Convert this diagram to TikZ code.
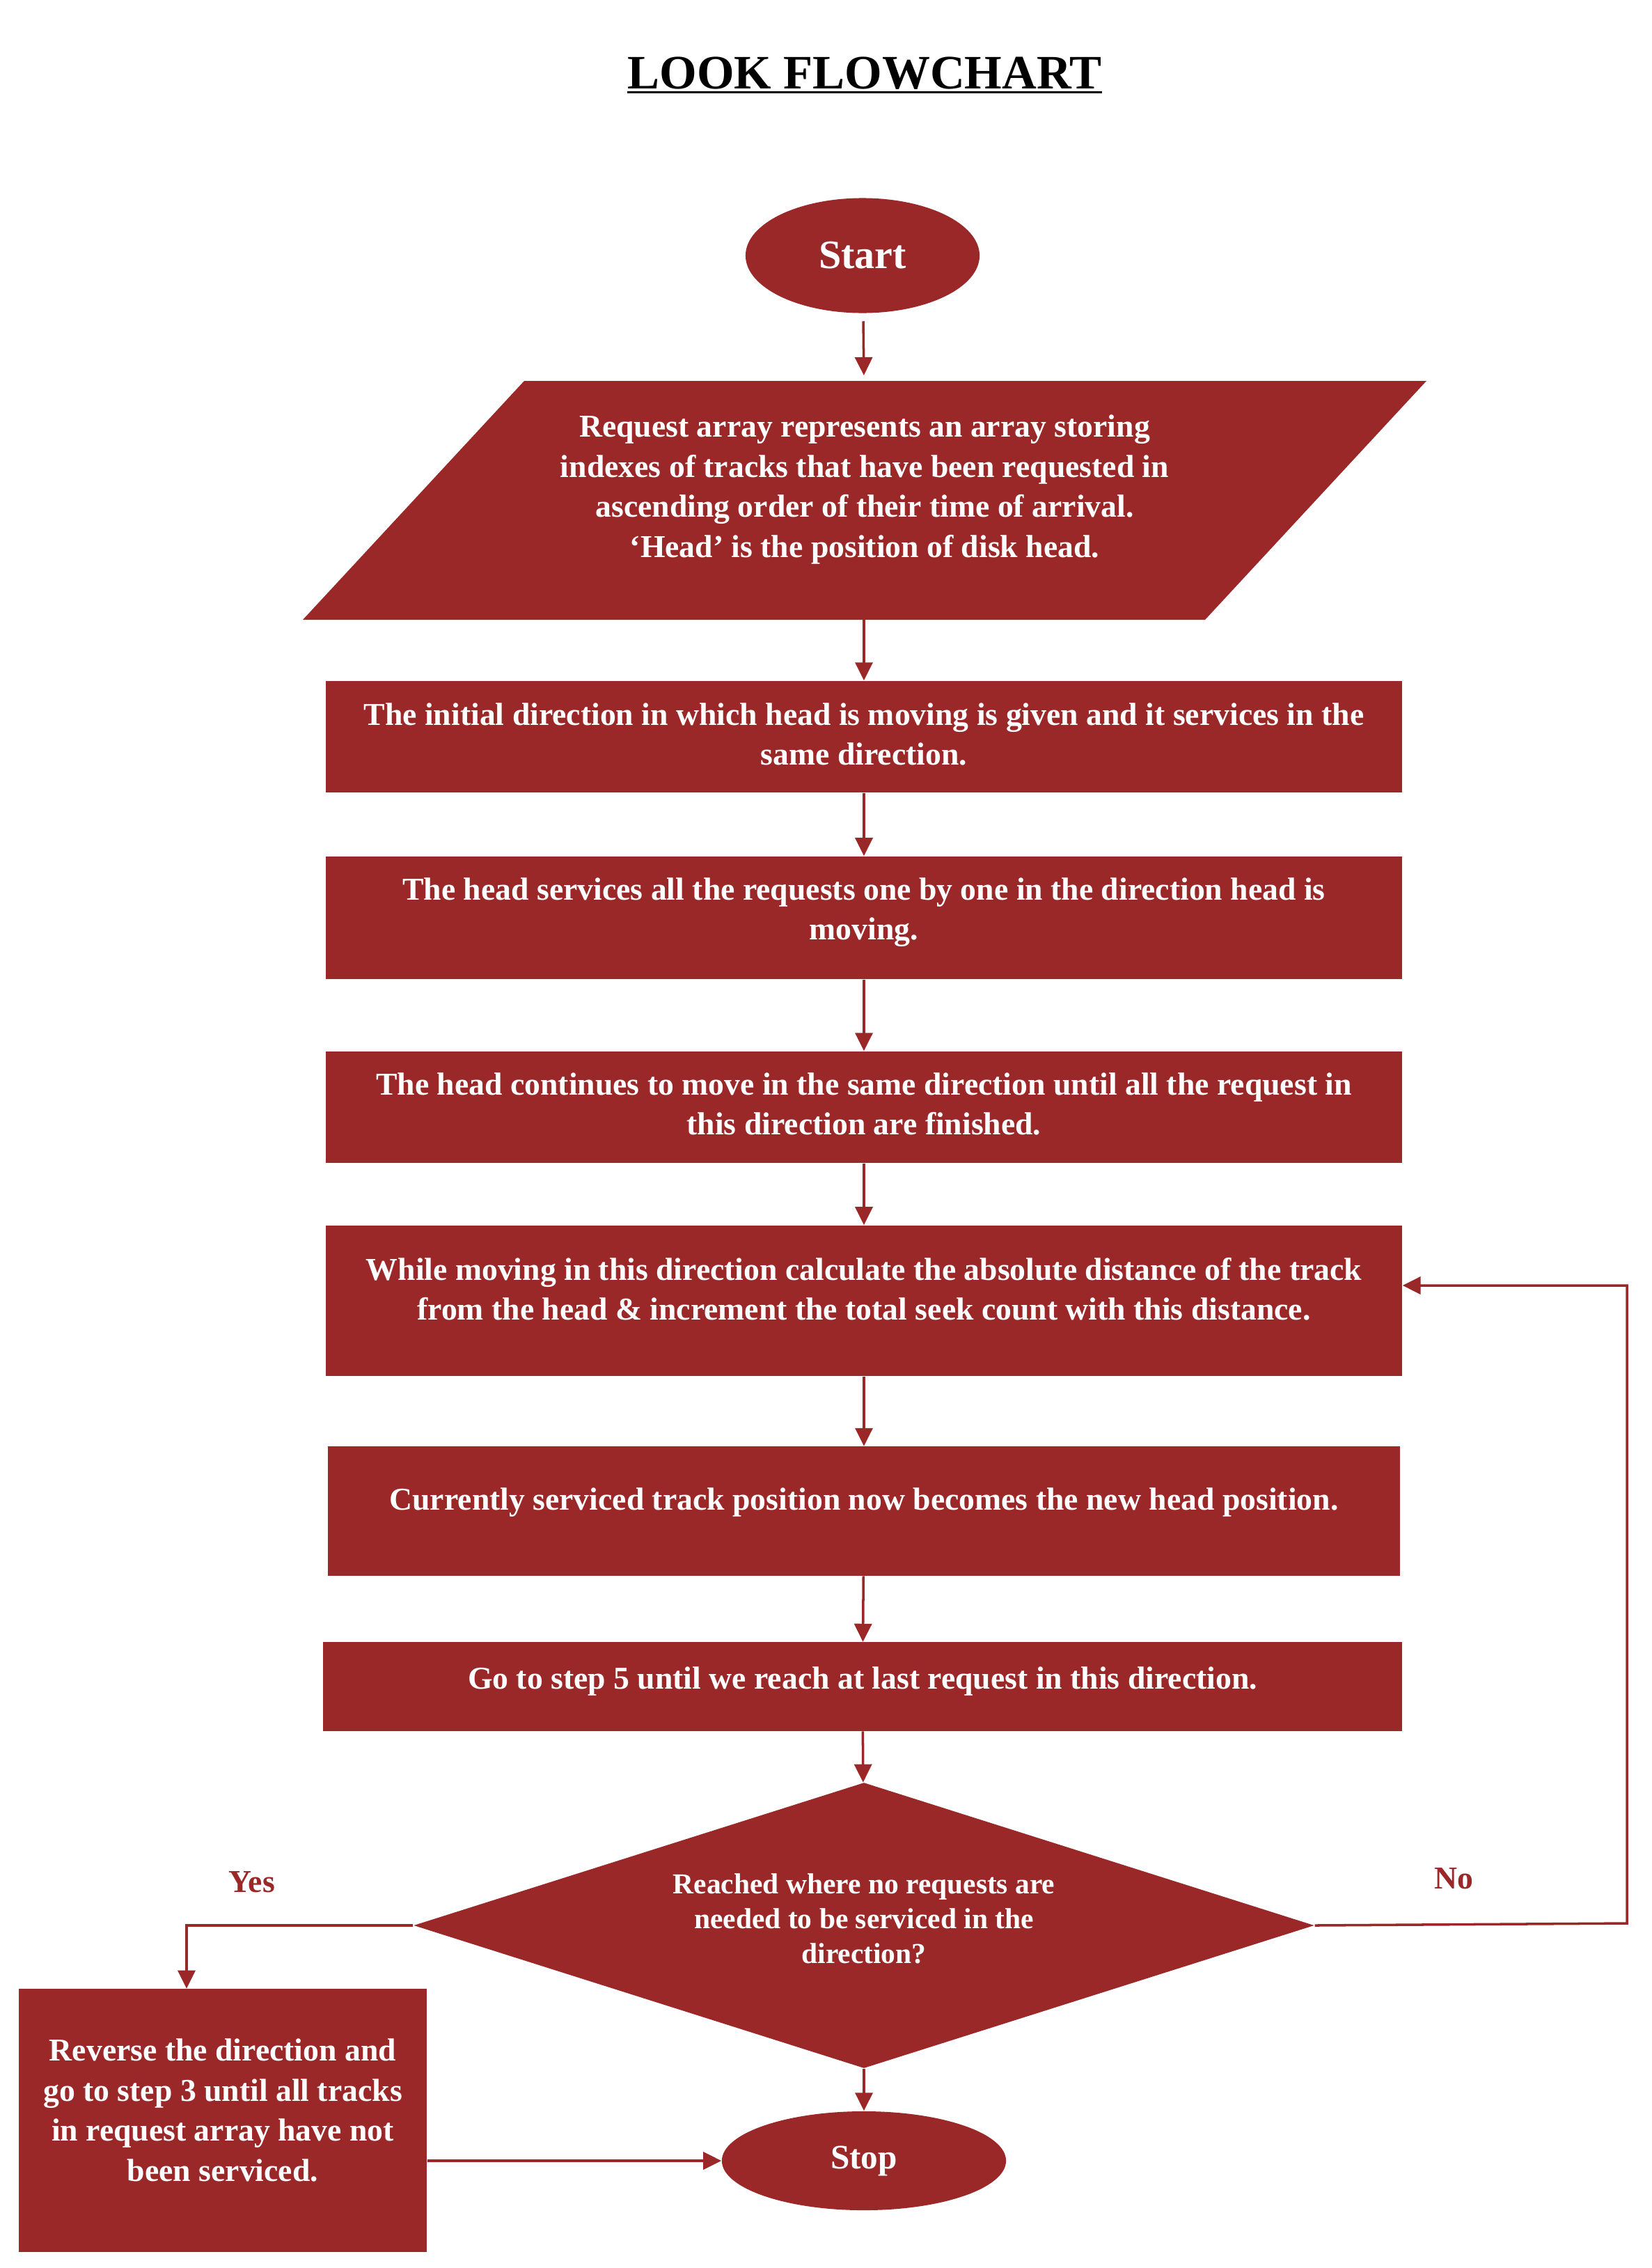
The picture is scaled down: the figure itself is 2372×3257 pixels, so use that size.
\documentclass[tikz,border=0pt]{standalone}
\usepackage{fontspec}
\setmainfont{Liberation Serif}
\usepackage{xcolor}
\usetikzlibrary{shapes.geometric, arrows.meta, positioning}
\definecolor{lookred}{RGB}{155,40,40}

\begin{document}
\begin{tikzpicture}[x=0.01cm, y=0.01cm,
  blockbox/.style={rectangle, fill=lookred, text=white, align=center, inner sep=0pt, font=\bfseries\fontsize{13}{16.4}\selectfont},
  endbox/.style={ellipse, fill=lookred, text=white, inner sep=0pt, font=\bfseries},
  flow/.style={draw=lookred, line width=1pt, -{Triangle[length=0.26cm, width=0.25cm]}},
  answer/.style={text=lookred, font=\bfseries\fontsize{13}{16.4}\selectfont}]
\useasboundingbox (0,0) rectangle (2372,-3257);
\node[anchor=south, inner sep=0pt, text depth=0pt, font=\bfseries\fontsize{19.6}{24}\selectfont] (title) at (1242,-128) {LOOK FLOWCHART};
\draw[line width=0.9pt] ([yshift=-1.3pt]title.south west) -- ([yshift=-1.3pt]title.south east);
\node[endbox, minimum width=3.36cm, minimum height=1.65cm, font=\bfseries\fontsize{16.5}{20}\selectfont] (start) at (1239,-367) {Start};
\coordinate (intop) at (1241,-547);
\coordinate (inbot) at (1241,-890);
\fill[lookred] (753,-547) -- (2049,-547) -- (1731,-890) -- (435,-890) -- cycle;
\node[blockbox] (input) at (1242,-703) {Request array represents an array storing\\ indexes of tracks that have been requested in\\ ascending order of their time of arrival.\\ ‘Head’ is the position of disk head.};
\node[blockbox, text depth=0.08cm, minimum width=15.45cm, minimum height=1.60cm] (box1) at (1241,-1058) {The initial direction in which head is moving is given and it services in the\\ same direction.};
\node[blockbox, text depth=0.26cm, minimum width=15.45cm, minimum height=1.76cm] (box2) at (1241,-1318) {The head services all the requests one by one in the direction head is\\ moving.};
\node[blockbox, text depth=0.1cm, minimum width=15.45cm, minimum height=1.60cm] (box3) at (1241,-1590) {The head continues to move in the same direction until all the request in\\ this direction are finished.};
\node[blockbox, text depth=0.34cm, minimum width=15.45cm, minimum height=2.16cm] (box4) at (1241,-1868) {While moving in this direction calculate the absolute distance of the track\\ from the head \& increment the total seek count with this distance.};
\node[blockbox, text depth=0.34cm, minimum width=15.39cm, minimum height=1.85cm] (box5) at (1241,-2170) {Currently serviced track position now becomes the new head position.};
\node[blockbox, text depth=0.24cm, minimum width=15.49cm, minimum height=1.27cm] (box6) at (1239,-2422) {Go to step 5 until we reach at last request in this direction.};
\node[blockbox, text depth=0.2cm, diamond, aspect=3.15, minimum width=12.93cm, minimum height=4.10cm, font=\bfseries\fontsize{11.8}{14.2}\selectfont] (dec) at (1241,-2765) {Reached where no requests are\\ needed to be serviced in the\\ direction?};
\node[blockbox, text depth=0.3cm, minimum width=5.86cm, minimum height=3.77cm] (rev) at (320,-3045) {Reverse the direction and\\ go to step 3 until all tracks\\ in request array have not\\ been serviced.};
\node[endbox, minimum width=4.08cm, minimum height=1.42cm, font=\bfseries\fontsize{14}{17}\selectfont] (stop) at (1241,-3103) {Stop};
\node[answer] (yes) at (362,-2703) {Yes};
\node[answer] (no) at (2088,-2698) {No};
\coordinate (noturn) at (2337,-2762);
\draw[flow, shorten >=0.08cm, shorten <=0.11cm] (start) -- (intop);
\draw[flow] (inbot) -- (box1);
\draw[flow] (box1) -- (box2);
\draw[flow] (box2) -- (box3);
\draw[flow] (box3) -- (box4);
\draw[flow] (box4) -- (box5);
\draw[flow] (box5) -- (box6);
\draw[flow] (box6) -- (dec);
\draw[flow] (dec) -- (stop);
\draw[flow] (dec.west) -| ([xshift=-0.52cm]rev.north);
\draw[flow] (dec.east) -- (noturn) |- ([yshift=0.22cm]box4.east);
\draw[flow] (rev.east |- stop.west) -- (stop.west);
\end{tikzpicture}
\end{document}
